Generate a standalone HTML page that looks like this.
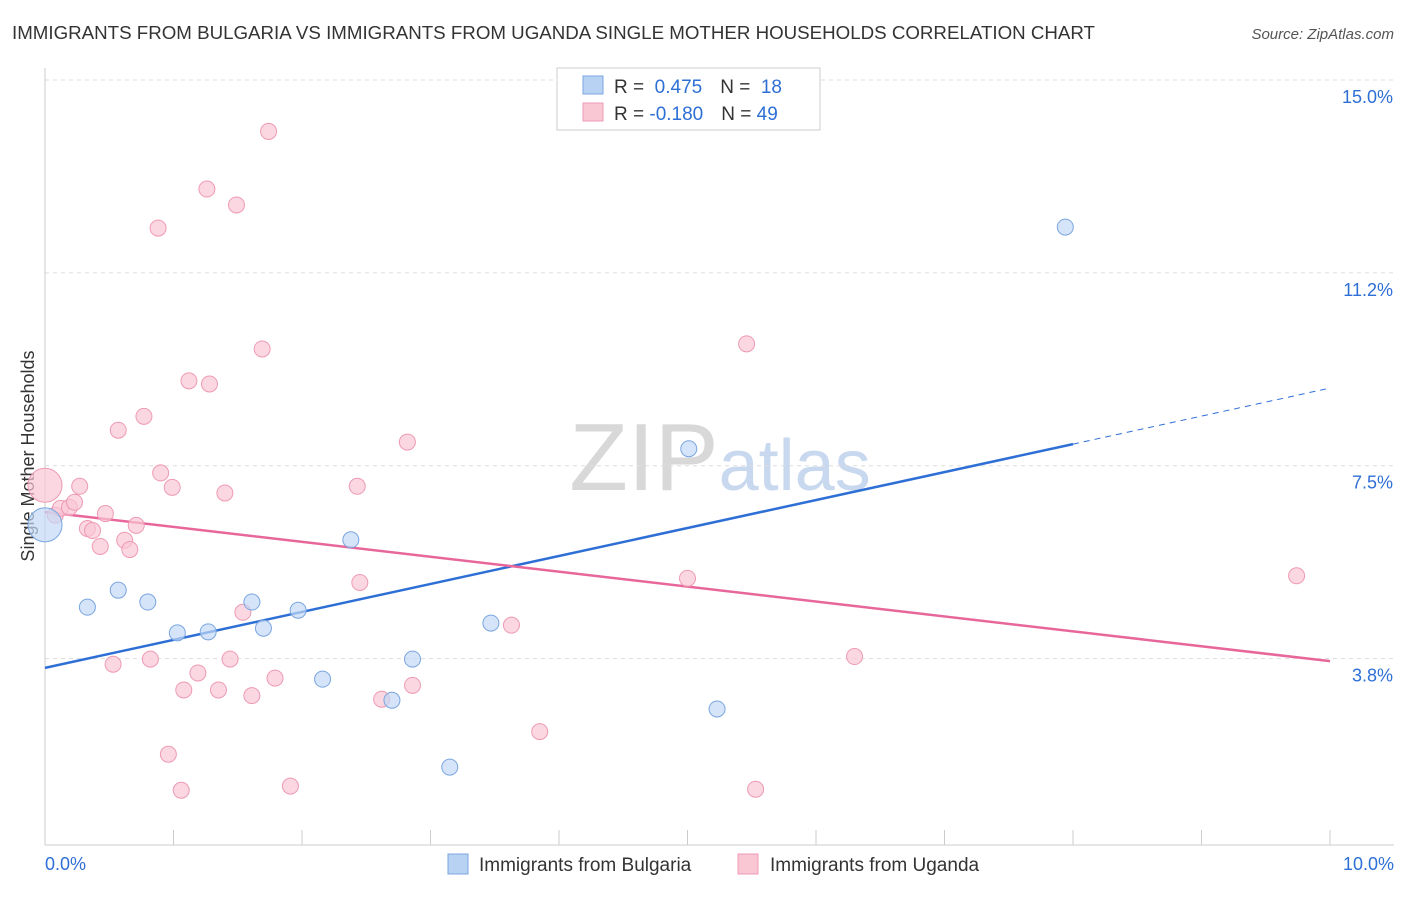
<!DOCTYPE html>
<html><head><meta charset="utf-8"><style>
body{margin:0;background:#fff;font-family:"Liberation Sans",sans-serif;}
svg text{font-family:"Liberation Sans",sans-serif;}
</style></head><body>
<svg id="chart" width="1406" height="892" xmlns="http://www.w3.org/2000/svg">
<text x="12" y="39" font-size="18" fill="#333" textLength="1083" lengthAdjust="spacingAndGlyphs">IMMIGRANTS FROM BULGARIA VS IMMIGRANTS FROM UGANDA SINGLE MOTHER HOUSEHOLDS CORRELATION CHART</text>
<text x="1394" y="39" font-size="15" fill="#555" text-anchor="end" font-style="italic">Source: ZipAtlas.com</text>
<text x="720" y="490" font-size="96" text-anchor="middle" fill="#ddd" font-family="Liberation Serif"><tspan fill="#d8d8d8">ZIP</tspan><tspan fill="#c8d8ee" font-family="Liberation Sans" font-size="72">atlas</tspan></text>
<text transform="translate(34,456) rotate(-90)" font-size="18" fill="#333" text-anchor="middle">Single Mother Households</text>
<g id="grid"></g><g id="axes"></g><g id="trends"></g><g id="points"></g>
<g>
<rect x="557" y="68" width="263" height="62" fill="#fff" stroke="#ccc"/>
<rect x="583" y="76" width="20" height="18" fill="#b8d2f4" stroke="#7aa6e0"/>
<rect x="583" y="103" width="20" height="18" fill="#f9c6d4" stroke="#ee9ab4"/>
<text x="614" y="93" font-size="19" fill="#333">R = <tspan fill="#2e6fd6">&#160;0.475</tspan><tspan dx="18">N = </tspan><tspan fill="#2e6fd6">&#160;18</tspan></text>
<text x="614" y="120" font-size="19" fill="#333">R = <tspan fill="#2e6fd6">-0.180</tspan><tspan dx="18">N = </tspan><tspan fill="#2e6fd6">49</tspan></text>
</g>
<g>
<rect x="448" y="854" width="20" height="20" fill="#b8d2f4" stroke="#7aa6e0"/>
<text x="479" y="871" font-size="19" fill="#333">Immigrants from Bulgaria</text>
<rect x="738" y="854" width="20" height="20" fill="#f9c6d4" stroke="#ee9ab4"/>
<text x="770" y="871" font-size="19" fill="#333">Immigrants from Uganda</text>
</g>
</svg>
<script>
const yTicks=[15,11.25,7.5,3.75];
const yTickLabels=["15.0%","11.2%","7.5%","3.8%"];
const xTickLabels=["0.0%","10.0%"];
const bulgariaX=[0.0,0.33,0.57,0.80,1.03,1.27,1.61,1.70,1.97,2.16,2.38,2.70,2.86,3.15,3.47,5.01,5.23,7.94];
const bulgariaY=[6.35,4.75,5.08,4.85,4.25,4.27,4.85,4.34,4.69,3.35,6.06,2.94,3.74,1.64,4.44,7.83,2.77,12.14];
const ugandaX=[0.0,0.08,0.12,0.19,0.23,0.27,0.33,0.37,0.43,0.47,0.53,0.57,0.62,0.66,0.71,0.77,0.82,0.88,0.90,0.96,0.99,1.06,1.08,1.12,1.19,1.26,1.28,1.35,1.40,1.44,1.49,1.54,1.61,1.69,1.74,1.79,1.91,2.43,2.45,2.62,2.82,2.86,3.63,3.85,5.00,5.46,5.53,6.30,9.74];
const ugandaY=[7.12,6.54,6.67,6.69,6.79,7.10,6.28,6.24,5.93,6.57,3.64,8.19,6.05,5.87,6.34,8.46,3.74,12.12,7.36,1.89,7.08,1.19,3.14,9.15,3.47,12.88,9.09,3.14,6.97,3.74,12.57,4.65,3.03,9.77,14.0,3.37,1.27,7.10,5.23,2.96,7.96,3.23,4.40,2.33,5.31,9.87,1.21,3.79,5.36];
const bulgariaTrend=[3.57,7.92,9.01];
const bulgariaTrendX=[0,8,10];
const ugandaTrend=[6.60,3.70];
const ugandaTrendX=[0,10];
const X=v=>45+v*128.5, Y=v=>80+(15-v)*51.43;
const NS="http://www.w3.org/2000/svg";
function mk(parent,tag,attrs){const e=document.createElementNS(NS,tag);for(const k in attrs)e.setAttribute(k,attrs[k]);document.getElementById(parent).appendChild(e);return e;}
yTicks.forEach((t,i)=>{
 const l=mk('grid','line',{x1:45,x2:1394,y1:Y(t),y2:Y(t),stroke:'#ddd','stroke-dasharray':'4,4'});
 
 
 const tx=mk('grid','text',{x:1393,y:Y(t)+23,'font-size':18,fill:'#2e6fd6','text-anchor':'end'});
 tx.textContent=yTickLabels[i];
 
 
});
const ax=mk('axes','line',{x1:45,x2:45,y1:68,y2:845,stroke:'#ccc'});


const bx=mk('axes','line',{x1:45,x2:1394,y1:845,y2:845,stroke:'#ccc'});


for(let i=1;i<=10;i++){const t=mk('axes','line',{x1:X(i),x2:X(i),y1:830,y2:845,stroke:'#ccc'});
 
 }
[[0,'start',45],[10,'end',1394]].forEach((p,i)=>{const t=mk('axes','text',{x:p[2],y:870,'font-size':18,fill:'#2e6fd6','text-anchor':p[1]});t.textContent=xTickLabels[i];
 
 });
function pts(xs,ys,fill,stroke,name,bigIdx){xs.forEach((x,i)=>{const c=mk('points','circle',{cx:X(x),cy:Y(ys[i]),r:i===bigIdx?17:8,fill:fill,stroke:stroke,'stroke-width':1,'fill-opacity':0.7});
 
 });}
pts(ugandaX,ugandaY,'#f9c6d4','#ee9ab4','uganda-point',0);
pts(bulgariaX,bulgariaY,'#c3d8f5','#7aa6e0','bulgaria-point',0);
const b1=mk('trends','line',{x1:X(bulgariaTrendX[0]),y1:Y(bulgariaTrend[0]),x2:X(bulgariaTrendX[1]),y2:Y(bulgariaTrend[1]),stroke:'#2e6fd6','stroke-width':2.5});


const b2=mk('trends','line',{x1:X(bulgariaTrendX[1]),y1:Y(bulgariaTrend[1]),x2:X(bulgariaTrendX[2]),y2:Y(bulgariaTrend[2]),stroke:'#2e6fd6','stroke-width':1,'stroke-dasharray':'6,5'});


const u1=mk('trends','line',{x1:X(ugandaTrendX[0]),y1:Y(ugandaTrend[0]),x2:X(ugandaTrendX[1]),y2:Y(ugandaTrend[1]),stroke:'#e8679a','stroke-width':2.5});


</script>
</body></html>
